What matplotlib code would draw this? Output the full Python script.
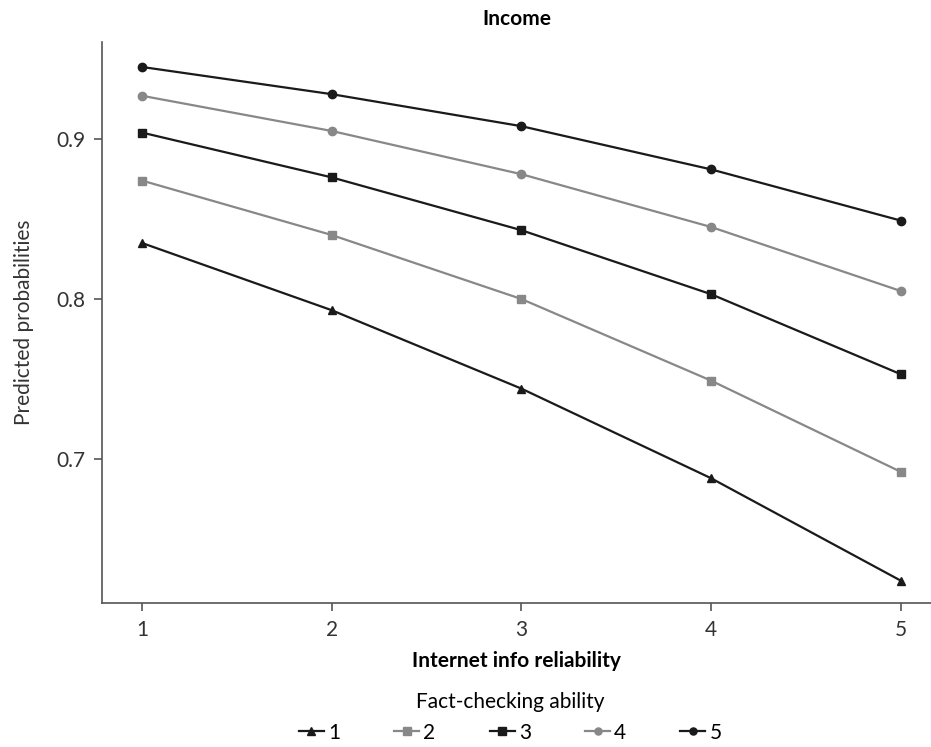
import matplotlib.pyplot as plt
import numpy as np

plt.rcParams.update({'font.size': 15, 'font.family': ['Lato', 'DejaVu Sans']})

reliability = [1, 2, 3, 4, 5]
ability_labels = ['1', '2', '3', '4', '5']
prob_1 = [0.835, 0.793, 0.744, 0.688, 0.624]
prob_2 = [0.874, 0.840, 0.800, 0.749, 0.692]
prob_3 = [0.904, 0.876, 0.843, 0.803, 0.753]
prob_4 = [0.927, 0.905, 0.878, 0.845, 0.805]
prob_5 = [0.945, 0.928, 0.908, 0.881, 0.849]

dark = '#1a1a1a'
grey = '#888888'
styles = [(dark, '^'), (grey, 's'), (dark, 's'), (grey, 'o'), (dark, 'o')]

fig = plt.figure(figsize=(9.31, 7.47), dpi=100)
ax = fig.add_axes([0.1096, 0.1928, 0.8904, 0.751])

for vals, lab, (c, m) in zip([prob_1, prob_2, prob_3, prob_4, prob_5], ability_labels, styles):
    ax.plot(reliability, vals, color=c, marker=m, markersize=6, linewidth=1.6, label=lab)

ax.set_xlim(0.79, 5.16)
ax.set_ylim(0.61, 0.9606)
ax.set_xticks(reliability)
ax.set_yticks([0.7, 0.8, 0.9])
ax.set_yticklabels(['0.7', '0.8', '0.9'])
for s in ['top', 'right']:
    ax.spines[s].set_visible(False)
for s in ['left', 'bottom']:
    ax.spines[s].set_color('#555555')
    ax.spines[s].set_linewidth(1.2)
ax.tick_params(color='#555555', length=6, width=1.2, labelcolor='#333333', pad=6)

ax.set_title('Income', fontweight='bold', fontsize=15, pad=12)
ax.set_xlabel('Internet info reliability', fontweight='bold', fontsize=15, labelpad=8)
ax.set_ylabel('Predicted probabilities', fontsize=15, labelpad=16, color='#333333')

leg = fig.legend(loc='lower center', bbox_to_anchor=(0.548, -0.008), ncol=5, frameon=False,
                 title='Fact-checking ability', handlelength=1.2, handletextpad=0.2,
                 columnspacing=2.6, borderaxespad=0.2, borderpad=0.3, markerscale=0.85)
leg.get_title().set_fontsize(15)

fig.savefig('out.png', dpi=100)
